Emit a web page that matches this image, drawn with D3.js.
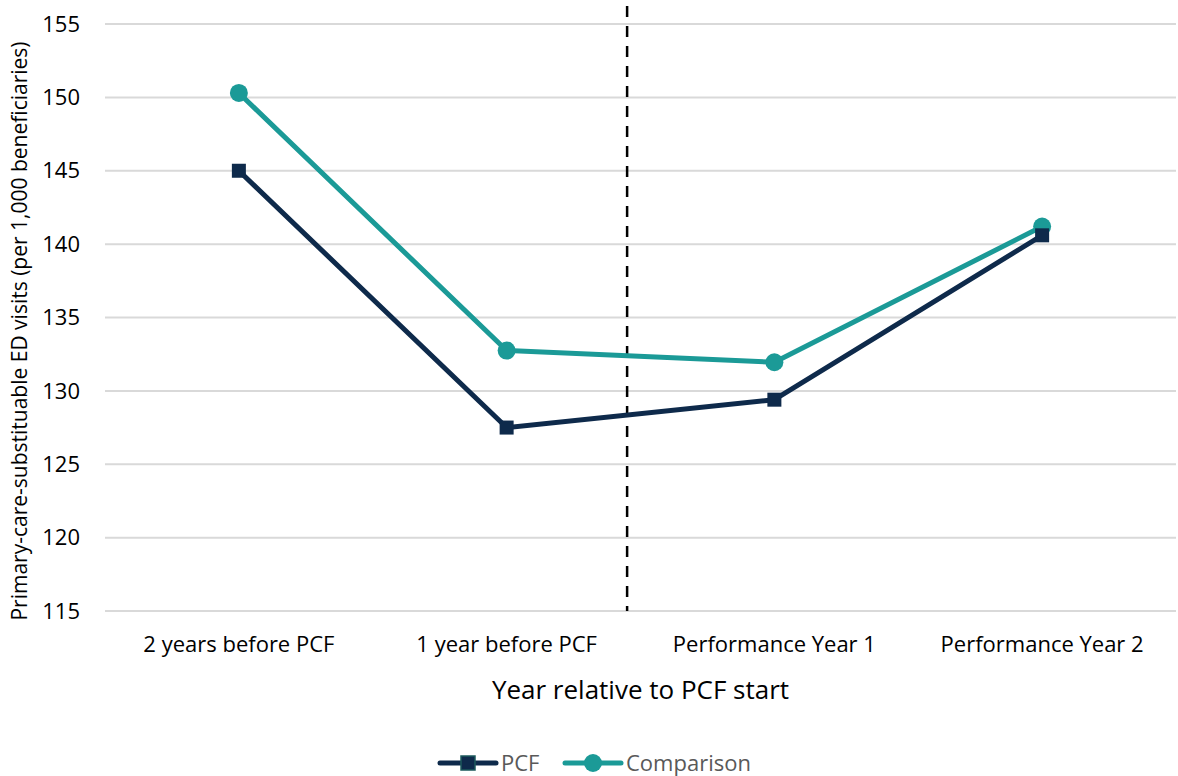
<!DOCTYPE html>
<html>
<head>
<meta charset="utf-8">
<script src="https://cdn.jsdelivr.net/npm/d3@7"></script>
<style>
  body { margin: 0; background: #fff; }
  text { font-family: "Open Sans", sans-serif; }
</style>
</head>
<body>
<div id="chart"></div>
<script>
// data
const categories = ["2 years before PCF", "1 year before PCF", "Performance Year 1", "Performance Year 2"];
const pcfValues = [145.0, 127.5, 129.4, 140.6];
const comparisonValues = [150.3, 132.75, 131.95, 141.2];
const yTicks = [115, 120, 125, 130, 135, 140, 145, 150, 155];
const seriesNames = ["PCF", "Comparison"];
const dividerPos = 1.45; // between "1 year before" and "Performance Year 1"

var cfg = {
  width: 1178,
  height: 776,
  margin: {top: 24, right: 2, bottom: 165, left: 105}
};

var colors = {
  pcf: "#0e2a4b",
  comp: "#1b9a97",
  grid: "#d9d9d9",
  text: "#000000",
  legend: "#595959"
};

var svg = d3.select("#chart").append("svg")
  .attr("width", cfg.width)
  .attr("height", cfg.height);

var plotW = cfg.width - cfg.margin.left - cfg.margin.right;
var plotH = cfg.height - cfg.margin.top - cfg.margin.bottom;

var scale = {
  x: d3.scaleBand()
    .domain(categories)
    .range([cfg.margin.left, cfg.margin.left + plotW]),
  y: d3.scaleLinear()
    .domain([115, 155])
    .range([cfg.margin.top + plotH, cfg.margin.top])
};

// center of band by index (also used for the divider)
var xIdx = d3.scaleLinear()
  .domain([0, 1])
  .range([scale.x(categories[0]) + scale.x.bandwidth() / 2,
          scale.x(categories[1]) + scale.x.bandwidth() / 2]);

// grid lines
svg.append("g")
  .selectAll("line")
  .data(yTicks)
  .enter().append("line")
  .attr("x1", cfg.margin.left)
  .attr("x2", cfg.margin.left + plotW)
  .attr("y1", d => scale.y(d))
  .attr("y2", d => scale.y(d))
  .style("stroke", colors.grid)
  .style("stroke-width", 2);

// y axis labels
svg.append("g")
  .selectAll("text")
  .data(yTicks)
  .enter().append("text")
  .attr("x", 80)
  .attr("y", d => scale.y(d))
  .attr("dy", "0.35em")
  .attr("text-anchor", "end")
  .style("font-size", "22px")
  .style("fill", colors.text)
  .text(d => d);

// x axis labels
svg.append("g")
  .selectAll("text")
  .data(categories)
  .enter().append("text")
  .attr("x", d => scale.x(d) + scale.x.bandwidth() / 2)
  .attr("y", 652)
  .attr("text-anchor", "middle")
  .style("font-size", "22px")
  .style("fill", colors.text)
  .text(d => d);

// axis titles
svg.append("text")
  .attr("x", cfg.margin.left + plotW / 2)
  .attr("y", 699)
  .attr("text-anchor", "middle")
  .style("font-size", "26px")
  .style("fill", colors.text)
  .text("Year relative to PCF start");

svg.append("text")
  .attr("transform", `translate(27, ${331}) rotate(-90)`)
  .attr("text-anchor", "middle")
  .style("font-size", "21px")
  .style("fill", colors.text)
  .text("Primary-care-substituable ED visits (per 1,000 beneficiaries)");

// divider
svg.append("line")
  .attr("x1", xIdx(dividerPos))
  .attr("x2", xIdx(dividerPos))
  .attr("y1", 6)
  .attr("y2", scale.y(115))
  .style("stroke", "#000")
  .style("stroke-width", 2.5)
  .style("stroke-dasharray", "11,9");

var line = d3.line()
  .x((d, i) => scale.x(categories[i]) + scale.x.bandwidth() / 2)
  .y(d => scale.y(d));

// comparison series
svg.append("path")
  .datum(comparisonValues)
  .attr("d", line)
  .style("fill", "none")
  .style("stroke", colors.comp)
  .style("stroke-width", 5)
  .style("stroke-linejoin", "round");

svg.append("g")
  .selectAll("circle")
  .data(comparisonValues)
  .enter().append("circle")
  .attr("cx", (d, i) => scale.x(categories[i]) + scale.x.bandwidth() / 2)
  .attr("cy", d => scale.y(d))
  .attr("r", 9)
  .style("fill", colors.comp);

// pcf series
svg.append("path")
  .datum(pcfValues)
  .attr("d", line)
  .style("fill", "none")
  .style("stroke", colors.pcf)
  .style("stroke-width", 5)
  .style("stroke-linejoin", "round");

svg.append("g")
  .selectAll("rect")
  .data(pcfValues)
  .enter().append("rect")
  .attr("x", (d, i) => scale.x(categories[i]) + scale.x.bandwidth() / 2 - 7)
  .attr("y", d => scale.y(d) - 7)
  .attr("width", 14)
  .attr("height", 14)
  .style("fill", colors.pcf);

// legend
var legendY = 763;
var legendItems = [
  {name: seriesNames[0], color: colors.pcf, x: 440, shape: "square"},
  {name: seriesNames[1], color: colors.comp, x: 565, shape: "circle"}
];

var lg = svg.append("g").selectAll("g")
  .data(legendItems)
  .enter().append("g")
  .attr("transform", d => `translate(${d.x}, ${legendY})`);

lg.append("line")
  .attr("x1", 0).attr("x2", 56)
  .attr("y1", 0).attr("y2", 0)
  .style("stroke", d => d.color)
  .style("stroke-width", 5)
  .style("stroke-linecap", "round");

lg.filter(d => d.shape === "square").append("rect")
  .attr("x", 21).attr("y", -7)
  .attr("width", 14).attr("height", 14)
  .style("fill", d => d.color)
  .style("stroke", "#1d5a5c")
  .style("stroke-width", 1.5);

lg.filter(d => d.shape === "circle").append("circle")
  .attr("cx", 28).attr("cy", 0)
  .attr("r", 9)
  .style("fill", d => d.color);

lg.append("text")
  .attr("x", 61)
  .attr("y", 0)
  .attr("dy", "0.35em")
  .style("font-size", "22px")
  .style("fill", colors.legend)
  .text(d => d.name);
</script>
</body>
</html>
